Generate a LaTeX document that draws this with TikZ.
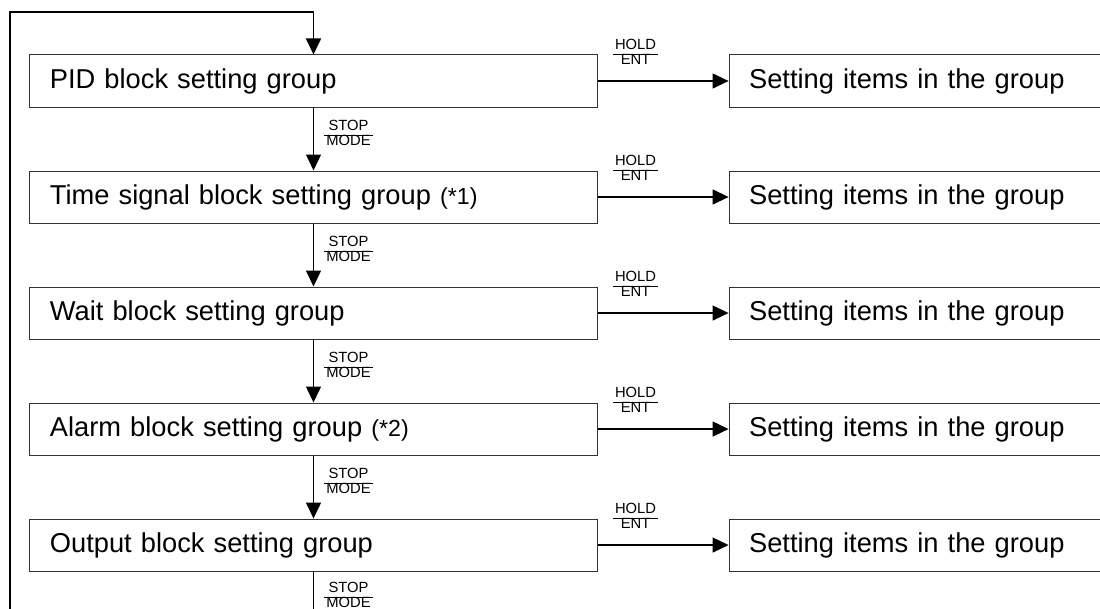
\documentclass[tikz,border=0pt]{standalone}
\usepackage{fontspec}
\setmainfont{Liberation Sans}
\usetikzlibrary{arrows.meta,positioning}

\newcommand{\keylbl}[2]{{\renewcommand{\arraystretch}{0.8}%
  \begin{tabular}{@{\hspace{1.5pt}}c@{\hspace{1.5pt}}}#1\\\hline #2\end{tabular}}}

\begin{document}
\begin{tikzpicture}[
    x=0.025cm, y=-0.025cm,
    grpbox/.style={rectangle, draw=black!80, line width=0.7pt, minimum width=14.175cm, minimum height=1.3cm, text width=13.175cm, inner xsep=0.5cm, align=left, font=\fontsize{19.4}{23}\selectfont},
    itembox/.style={rectangle, draw=black!80, line width=0.7pt, minimum width=9.675cm, minimum height=1.3cm, text width=8.675cm, inner xsep=0.5cm, align=left, font=\fontsize{19.4}{23}\selectfont},
    keylbl/.style={inner sep=0pt, font=\fontsize{10.5}{12}\selectfont},
    flow/.style={-{Triangle[length=0.4cm,width=0.375cm]}, line width=0.9pt},
    retline/.style={-{Triangle[length=0.4cm,width=0.375cm]}, line width=1.2pt}
]
\useasboundingbox (0,0) rectangle (1100,609);

% Setting groups
\node[grpbox] (pid) at (313.5,81) {PID block setting group};
\node[grpbox, below=1.575cm of pid] (tsig) {Time signal block setting group {\fontsize{16.5}{20}\selectfont(*1)}};
\node[grpbox, below=1.575cm of tsig] (wait) {Wait block setting group};
\node[grpbox, below=1.575cm of wait] (alarm) {Alarm block setting group {\fontsize{16.5}{20}\selectfont(*2)}};
\node[grpbox, below=1.575cm of alarm] (output) {Output block setting group};

% Items in each group
\node[itembox, right=3.275cm of pid] (pidset) {Setting items in the group};
\node[itembox, right=3.275cm of tsig] (tsigset) {Setting items in the group};
\node[itembox, right=3.275cm of wait] (waitset) {Setting items in the group};
\node[itembox, right=3.275cm of alarm] (alarmset) {Setting items in the group};
\node[itembox, right=3.275cm of output] (outputset) {Setting items in the group};

% HOLD/ENT
\draw[flow] (pid.east) -- node[keylbl, pos=0.29, yshift=0.675cm] (k1) {\keylbl{HOLD}{ENT}} (pidset.west);
\draw[flow] (tsig.east) -- node[keylbl, pos=0.29, yshift=0.675cm] (k2) {\keylbl{HOLD}{ENT}} (tsigset.west);
\draw[flow] (wait.east) -- node[keylbl, pos=0.29, yshift=0.675cm] (k3) {\keylbl{HOLD}{ENT}} (waitset.west);
\draw[flow] (alarm.east) -- node[keylbl, pos=0.29, yshift=0.675cm] (k4) {\keylbl{HOLD}{ENT}} (alarmset.west);
\draw[flow] (output.east) -- node[keylbl, pos=0.29, yshift=0.675cm] (k5) {\keylbl{HOLD}{ENT}} (outputset.west);

% STOP/MODE
\draw[flow] (pid.south) -- node[keylbl, pos=0.44, xshift=0.875cm] (m1) {\keylbl{STOP}{MODE}} (tsig.north);
\draw[flow] (tsig.south) -- node[keylbl, pos=0.44, xshift=0.875cm] (m2) {\keylbl{STOP}{MODE}} (wait.north);
\draw[flow] (wait.south) -- node[keylbl, pos=0.44, xshift=0.875cm] (m3) {\keylbl{STOP}{MODE}} (alarm.north);
\draw[flow] (alarm.south) -- node[keylbl, pos=0.44, xshift=0.875cm] (m4) {\keylbl{STOP}{MODE}} (output.north);

% back to the first group
\coordinate (retbot) at (313.5,630);
\coordinate (rettop) at (10,12);
\draw[retline] (output.south) -- node[keylbl, pos=0.44, xshift=0.875cm] (m5) {\keylbl{STOP}{MODE}} (retbot) -| (rettop) -| (pid.north);
\end{tikzpicture}
\end{document}
